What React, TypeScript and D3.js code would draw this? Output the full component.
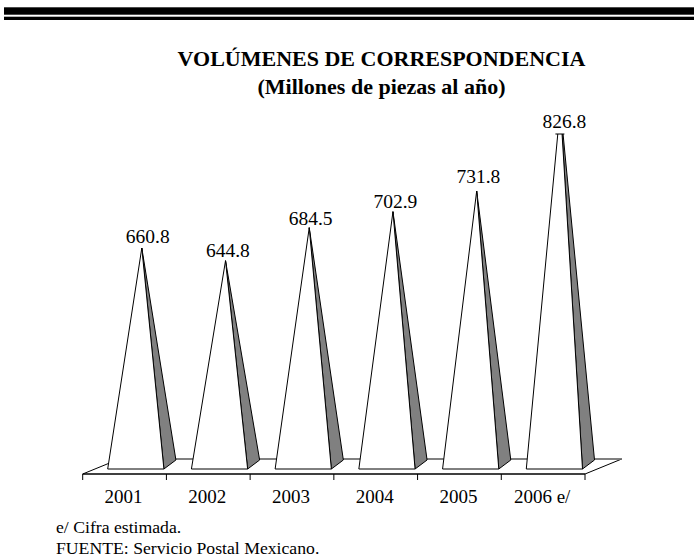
import * as d3 from "d3";

const years = ["2001", "2002", "2003", "2004", "2005", "2006 e/"];
const labels = ["660.8", "644.8", "684.5", "702.9", "731.8", "826.8"];
// drawn height does not follow the printed figure exactly in the original,
// and the last pyramid runs past the top of the plot and gets cut off
const peaks = [660.8, 642.3, 690.4, 713.7, 743.8, 867];
const labelNudgeX = [6, 2.3, 1.4, 2.4, 1.7, 4];
const labelNudgeY = [-5, -4, -3, -4, -8, 0];

const width = 694;
const height = 558;
const axisY = 474;
const baseY = 469;
const backY = 459;
const topY = 134;
const depthX = 12;
const serif = "'Liberation Serif', serif";

const x = d3.scaleBand<string>().domain(years).range([82.7, 585]);
const y = d3.scaleLinear().domain([339, 826.8]).range([baseY, topY]);
const line = d3.line();

function App() {
  const band = x.bandwidth();
  const floor = line([
    [82.7, axisY],
    [119.4, backY],
    [621.7, backY],
    [585, axisY],
  ]) as string;

  return (
    <div style={{ position: "absolute", left: 0, top: 0 }}>
      <svg width={width} height={height} style={{ display: "block", background: "#fff" }} fontFamily={serif}>
        <defs>
          <clipPath id="plot">
            <rect x={0} y={topY} width={width} height={height - topY} />
          </clipPath>
        </defs>
        <rect x={4} y={7.3} width={690} height={7.4} fill="#000" />
        <rect x={4} y={16.7} width={690} height={3.3} fill="#000" />

        <text x={381.5} y={66} textAnchor="middle" fontSize={22} fontWeight="bold">
          VOLÚMENES DE CORRESPONDENCIA
        </text>
        <text x={381.5} y={94} textAnchor="middle" fontSize={22} fontWeight="bold">
          (Millones de piezas al año)
        </text>

        <path d={floor} fill="#fff" stroke="#000" strokeWidth={1} />
        <line x1={119.4} x2={621.7} y1={backY} y2={backY} stroke="#808080" strokeWidth={1.5} />

        {years.map((yr, i) => {
          const left = (x(yr) as number) + 25;
          const right = left + band - 27.5;
          const apexX = (left + right + depthX) / 2;
          const apexY = y(peaks[i]);
          return (
            <g key={yr}>
              <g clipPath="url(#plot)">
                <path
                  d={line([[right, baseY], [right + depthX, backY + 1], [apexX, apexY]]) + "Z"}
                  fill="#808080"
                  stroke="#000"
                  strokeWidth={1}
                />
                <path
                  d={line([[left, baseY], [right, baseY], [apexX, apexY]]) + "Z"}
                  fill="#fff"
                  stroke="#000"
                  strokeWidth={1}
                />
              </g>
              {apexY < topY && (
                <line x1={apexX - 5} x2={apexX + 4} y1={topY} y2={topY} stroke="#000" strokeWidth={1} />
              )}
              <text
                x={apexX + labelNudgeX[i]}
                y={apexY < topY ? topY - 6 : apexY + labelNudgeY[i]}
                textAnchor="middle"
                fontSize={19.5}
              >
                {labels[i]}
              </text>
              <text x={(x(yr) as number) + band / 2 - 1} y={503} textAnchor="middle" fontSize={19}>
                {yr}
              </text>
            </g>
          );
        })}

        <line x1={82.7} x2={585} y1={axisY} y2={axisY} stroke="#000" strokeWidth={1.5} />
        {[...years.map((yr) => x(yr) as number), 585].map((t) => (
          <line key={t} x1={t} x2={t} y1={axisY} y2={axisY + 6} stroke="#000" strokeWidth={1} />
        ))}

        <text x={56} y={532.5} fontSize={17.7}>e/ Cifra estimada.</text>
        <text x={56} y={554} fontSize={17.7}>FUENTE: Servicio Postal Mexicano.</text>
      </svg>
    </div>
  );
}

export default App;
